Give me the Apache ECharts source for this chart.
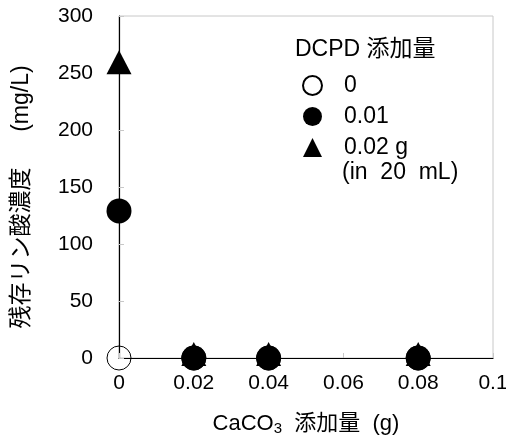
<!DOCTYPE html>
<html>
<head>
<meta charset="utf-8">
<style>html,body{margin:0;padding:0;background:#fff;}#c{width:506px;height:441px;}</style>
<script src="https://cdn.jsdelivr.net/npm/echarts@6/dist/echarts.min.js"></script>
</head>
<body>
<div id="c"></div>
<script>
// CaCO3 added (g)
var caco3 = [0, 0.02, 0.04, 0.08];
// residual phosphate (mg/L) for each DCPD dose
var dcpd0 = [0, 0, 0, 0];
var dcpd001 = [129, 0, 0, 0];
var dcpd002 = [256, 0, 0, 0];
var seriesNames = ['0', '0.01', '0.02 g'];
var xTicks = [0, 0.02, 0.04, 0.06, 0.08, 0.1];
var yTicks = [0, 50, 100, 150, 200, 250, 300];

var FONT = '"Liberation Sans", Arial, "Noto Sans CJK JP", sans-serif';
function pairs(ys) { return caco3.map(function (x, i) { return [x, ys[i]]; }); }

var chart = echarts.init(document.getElementById('c'), null, { renderer: 'canvas' });
chart.setOption({
  backgroundColor: '#fff',
  animation: false,
  textStyle: { fontFamily: FONT },
  grid: { left: 119, top: 16, right: 13, bottom: 83, outerBoundsMode: 'none', containLabel: false,
    show: true, borderColor: '#c8c8c8', borderWidth: 1, backgroundColor: 'transparent' },
  xAxis: {
    type: 'value', min: xTicks[0], max: xTicks[xTicks.length - 1], interval: 0.02,
    axisLine: { show: true, onZero: false, lineStyle: { color: '#000', width: 1.2 } },
    axisTick: { show: true, inside: true, length: 5, lineStyle: { color: '#c8c8c8' } },
    splitLine: { show: false },
    axisLabel: { color: '#000', fontSize: 21, margin: 15, fontFamily: FONT,
      formatter: function (v) { return String(+v.toFixed(2)); } },
    name: '{a|CaCO}{s|3}{a|  添加量  (g)}',
    nameLocation: 'middle', nameGap: 53,
    nameTextStyle: { rich: {
      a: { fontSize: 22, color: '#000', fontFamily: FONT, lineHeight: 26 },
      s: { fontSize: 15, color: '#000', fontFamily: FONT, lineHeight: 26, padding: [10, 0, 0, 0] }
    } }
  },
  yAxis: {
    type: 'value', min: yTicks[0], max: yTicks[yTicks.length - 1], interval: 50,
    axisLine: { show: true, onZero: false, lineStyle: { color: '#000', width: 1.2 } },
    axisTick: { show: true, inside: true, length: 5, lineStyle: { color: '#c8c8c8' } },
    splitLine: { show: false },
    axisLabel: { color: '#000', fontSize: 21, margin: 26, fontFamily: FONT }
  },
  legend: {
    orient: 'vertical', left: 297, top: 65, itemGap: 0,
    itemWidth: 19, itemHeight: 19,
    data: seriesNames,
    textStyle: { fontSize: 23, color: '#000', fontFamily: FONT, lineHeight: 31, padding: [0, 0, 0, 17] },
    selectedMode: false
  },
  graphic: [
    { type: 'text', left: 295, top: 38, style: { text: 'DCPD 添加量', font: '23px ' + FONT, fill: '#000' } },
    { type: 'text', left: 342, top: 161, style: { text: '(in  20  mL)', font: '23px ' + FONT, fill: '#000' } },
    { type: 'text', x: 22, y: 197, rotation: Math.PI / 2,
      style: { text: '残存リン酸濃度　  (mg/L)', font: '23px ' + FONT, fill: '#000', align: 'center', verticalAlign: 'middle' } }
  ],
  series: [
    { name: seriesNames[0], type: 'scatter', data: pairs(dcpd0), symbol: 'circle', symbolSize: 24, clip: false,
      itemStyle: { color: 'rgba(255,255,255,0)', borderColor: '#000', borderWidth: 1, opacity: 1 }, z: 2 },
    { name: seriesNames[2], type: 'scatter', data: pairs(dcpd002), symbol: 'triangle', symbolSize: [25, 24], symbolOffset: [0, -4], clip: false,
      itemStyle: { color: '#000', opacity: 1 }, z: 3 },
    { name: seriesNames[1], type: 'scatter', data: pairs(dcpd001), symbol: 'circle', symbolSize: 25, clip: false,
      itemStyle: { color: '#000', opacity: 1 }, z: 4 }
  ]
});
</script>
</body>
</html>
